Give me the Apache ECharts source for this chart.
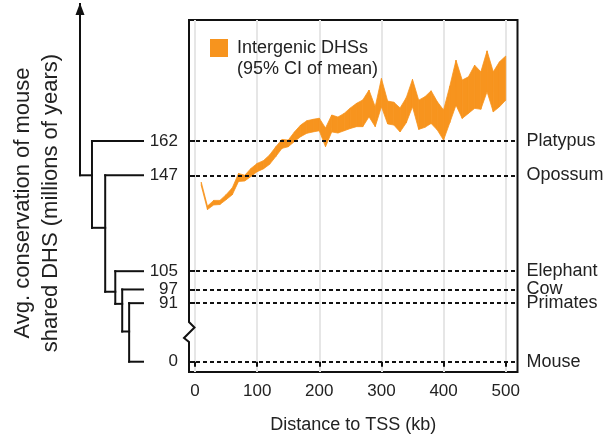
<!DOCTYPE html>
<html>
<head>
<meta charset="utf-8">
<style>
html, body { margin: 0; padding: 0; background: #fff; }
#main { width: 609px; height: 440px; }
</style>
<script src="https://cdn.jsdelivr.net/npm/echarts@6.0.0/dist/echarts.min.js"></script>
</head>
<body>
<div id="main"></div>
<script>
// 距离 TSS (kb)
var distKb = [10, 20, 30, 40, 50, 60, 70, 80, 90, 100,
    110, 120, 130, 140, 150, 160, 170, 180, 190, 200,
    210, 220, 230, 240, 250, 260, 270, 280, 290, 300,
    310, 320, 330, 340, 350, 360, 370, 380, 390, 400,
    410, 420, 430, 440, 450, 460, 470, 480, 490, 500];
// 95% CI 下界 / 上界
var ciLow = [142.5, 132.0, 134.0, 134.2, 136.3, 138.5, 144.3, 144.5, 146.5, 148.6,
    149.8, 151.8, 155.2, 158.8, 159.5, 161.8, 163.9, 165.4, 166.0, 166.5,
    159.5, 166.0, 165.5, 166.5, 167.5, 168.3, 168.3, 172.6, 168.3, 177.0,
    169.5, 169.0, 166.0, 170.0, 177.0, 167.1, 168.0, 169.7, 166.8, 162.4,
    170.0, 177.7, 171.9, 174.1, 176.3, 175.9, 183.6, 174.8, 177.0, 179.9];
var ciHigh = [144.0, 133.5, 136.0, 136.0, 138.5, 141.5, 147.8, 147.0, 150.0, 152.2,
    153.4, 155.9, 159.5, 162.7, 162.4, 166.0, 169.0, 170.9, 171.5, 172.0,
    167.7, 173.4, 172.5, 174.1, 176.5, 178.5, 180.0, 184.3, 177.0, 189.4,
    179.5, 179.0, 176.5, 181.0, 189.0, 179.9, 181.4, 184.0, 179.2, 175.6,
    186.0, 197.4, 188.7, 190.1, 195.2, 192.3, 201.5, 192.3, 196.7, 199.2];

var speciesNames = ['Platypus', 'Opossum', 'Elephant', 'Cow', 'Primates', 'Mouse'];
var speciesAges = [162, 147, 105, 97, 91, 0];
var xTicks = [0, 100, 200, 300, 400, 500];

// 进化树: 深度(0 = 主干, 100 = 叶), 年龄, 父节点
var treeName = ['stem', 'n1', 'n2', 'n3', 'n4', 'n5', 'Platypus', 'Opossum', 'Elephant', 'Cow', 'Primates', 'Mouse'];
var treeDepth = [0, 19, 40, 56, 67, 78, 100, 100, 100, 100, 100, 100];
var treeAge = [147, 147, 124, 96, 90.7, 50, 162, 147, 105, 97, 91, 0];
var treeParent = [-1, 0, 1, 2, 3, 4, 1, 2, 3, 4, 5, 5];
var stemTop = 222;

var orange = '#f7941e';
var ink = '#111';
var txt = '#222';
var font = '"Liberation Sans", Arial, sans-serif';

// 树的线段
var treeSegs = [];
for (var i = 0; i < treeName.length; i++) {
    var p = treeParent[i];
    if (p >= 0) {
        treeSegs.push([treeDepth[p], treeAge[i], treeDepth[i], treeAge[i], 0]);
    }
    var kids = [];
    for (var j = 0; j < treeName.length; j++) {
        if (treeParent[j] === i) kids.push(treeAge[j]);
    }
    if (kids.length > 1) {
        treeSegs.push([treeDepth[i], Math.min.apply(null, kids), treeDepth[i], Math.max.apply(null, kids), 0]);
    }
}
treeSegs.push([treeDepth[0], treeAge[0], treeDepth[0], stemTop, 1]);

var bandData = [];
for (var k = 0; k < distKb.length; k++) {
    bandData.push([distKb[k], ciLow[k], ciHigh[k]]);
}

var yBreaks = [{ start: 5, end: 85, gap: '9.5%' }];

var chart = echarts.init(document.getElementById('main'));
var option = {
    animation: false,
    textStyle: { fontFamily: font },
    legend: {
        data: ['Intergenic DHSs'],
        left: 210, top: 39,
        padding: 0,
        icon: 'rect',
        itemWidth: 18, itemHeight: 18,
        textStyle: { fontSize: 18, color: txt, padding: [0, 0, 0, 4] }
    },
    grid: [
        { left: 189, right: 91.5, top: 20, bottom: 68, show: true, borderColor: ink, borderWidth: 2 },
        { left: 80, width: 63, top: 20, bottom: 68 }
    ],
    xAxis: [{
        type: 'value', gridIndex: 0, min: -9.7, max: 519,
        axisLine: { show: false },
        axisTick: { show: true, customValues: xTicks, length: 5, lineStyle: { color: ink, width: 2 } },
        axisLabel: { customValues: xTicks, fontSize: 17, color: txt, margin: 11 },
        splitLine: { show: true, lineStyle: { color: '#e6e6e6', width: 2 } },
        name: 'Distance to TSS (kb)', nameLocation: 'middle', nameGap: 44,
        nameTextStyle: { fontSize: 18, color: txt }
    }, {
        type: 'value', gridIndex: 1, min: 0, max: 100, show: false
    }],
    yAxis: [{
        type: 'value', gridIndex: 0, min: -4.5, max: 215,
        breaks: yBreaks,
        breakArea: { show: false },
        axisLine: { show: false },
        splitLine: { show: false },
        axisTick: { show: true, customValues: speciesAges, length: 5, lineStyle: { color: ink, width: 2 } },
        axisLabel: { customValues: speciesAges, fontSize: 17, color: txt, margin: 11 }
    }, {
        type: 'value', gridIndex: 1, min: -4.5, max: 215, show: false,
        breaks: yBreaks,
        breakArea: { show: false }
    }],
    graphic: [{
        type: 'text', x: 37, y: 203, rotation: Math.PI / 2, z: 100,
        style: {
            text: 'Avg. conservation of mouse\nshared DHS (millions of years)',
            align: 'center', verticalAlign: 'middle',
            fontSize: 22, lineHeight: 28, fill: txt, fontFamily: font
        }
    }, {
        type: 'text', left: 237, top: 60, z: 100,
        style: { text: '(95% CI of mean)', fontSize: 18, fill: txt, fontFamily: font }
    }, {
        type: 'rect', z: 100, shape: { x: 185, y: 320, width: 8, height: 23 },
        style: { fill: '#fff' }
    }, {
        type: 'polyline', z: 101,
        shape: { points: [[189, 319], [189, 322], [194.5, 327.5], [184, 338], [189, 342], [189, 344]] },
        style: { stroke: ink, lineWidth: 2, fill: null }
    }],
    series: [{
        name: 'ref', type: 'line', xAxisIndex: 0, yAxisIndex: 0,
        data: [], silent: true,
        markLine: {
            silent: true,
            symbol: ['none', 'none'],
            lineStyle: { color: ink, width: 2, type: [4, 3] },
            label: { position: 'end', formatter: '{b}', fontSize: 18, color: txt, distance: 9 },
            data: speciesAges.map(function (v, i) {
                return { yAxis: v, name: speciesNames[i] };
            })
        }
    }, {
        name: 'Intergenic DHSs', type: 'custom', xAxisIndex: 0, yAxisIndex: 0,
        data: bandData, silent: true,
        itemStyle: { color: orange },
        encode: { x: 0, y: [1, 2] },
        renderItem: function (params, api) {
            var n = params.dataInsideLength;
            var idx = params.dataIndexInside;
            if (idx >= n - 1) return;
            var p0 = api.coord([api.value(0, idx), api.value(1, idx)]);
            var p1 = api.coord([api.value(0, idx + 1), api.value(1, idx + 1)]);
            var p2 = api.coord([api.value(0, idx + 1), api.value(2, idx + 1)]);
            var p3 = api.coord([api.value(0, idx), api.value(2, idx)]);
            return {
                type: 'polygon',
                shape: { points: [p0, p1, p2, p3] },
                style: { fill: orange, stroke: orange, lineWidth: 0.8, lineJoin: 'round' }
            };
        },
        z: 3
    }, {
        name: 'tree', type: 'custom', xAxisIndex: 1, yAxisIndex: 1,
        data: treeSegs, clip: false, silent: true,
        encode: { x: [0, 2], y: [1, 3] },
        renderItem: function (params, api) {
            var a = api.coord([api.value(0), api.value(1)]);
            var b = api.coord([api.value(2), api.value(3)]);
            var children = [{
                type: 'line',
                shape: { x1: a[0], y1: a[1], x2: b[0], y2: b[1] },
                style: { stroke: ink, lineWidth: 2, lineCap: 'square' }
            }];
            if (api.value(4) === 1) {
                children.push({
                    type: 'polygon',
                    shape: { points: [[b[0], b[1] - 1], [b[0] - 4.5, b[1] + 11], [b[0] + 4.5, b[1] + 11]] },
                    style: { fill: ink }
                });
            }
            return { type: 'group', children: children };
        }
    }]
};
chart.setOption(option);
</script>
</body>
</html>
